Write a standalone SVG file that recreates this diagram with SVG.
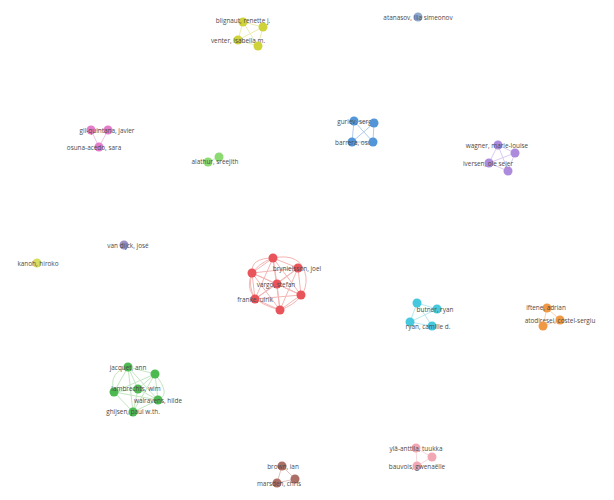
<svg xmlns="http://www.w3.org/2000/svg" width="614" height="500" viewBox="0 0 614 500">
<style>
text{font-family:"Open Sans","Liberation Sans",sans-serif;font-size:6.4px;fill:#4a4a4a;text-anchor:middle}
line,path{stroke-width:1;fill:none;stroke-linecap:round}
.ered line,.ered path{stroke:#f5b5b5}
.eyel line{stroke:#ecedb0}
.eblu line{stroke:#afcdee}
.epur line{stroke:#dccbf2}
.emag line{stroke:#f3c4e6}
.elg line{stroke:#d2eec6}
.ecy line{stroke:#b8e8f2}
.eor line{stroke:#f8d2ae}
.egr line,.egr path{stroke:#c4e6c2}
.ebr line{stroke:#e0c4bf}
.epk line{stroke:#f8d8dd}
circle{r:4.5px}
.red{fill:#e8545a}
.yel{fill:#cfd33a}
.blu{fill:#5296d8}
.pur{fill:#ac8adc}
.mag{fill:#e27ccb}
.lg{fill:#8cda72}
.cy{fill:#46c8de}
.or{fill:#f09844}
.gr{fill:#4cba50}
.br{fill:#ab6f66}
.pk{fill:#f2a8b4}
.gb{fill:#90a8cc}
.vd{fill:#9c92c2}
.ka{fill:#d8dc62}
</style>
<rect width="614" height="500" fill="#fff"/>
<g id="connectors">
<g class="eyel"><line x1="243" y1="22" x2="263" y2="27"/><line x1="243" y1="22" x2="238" y2="40"/><line x1="243" y1="22" x2="258" y2="46"/><line x1="263" y1="27" x2="238" y2="40"/><line x1="263" y1="27" x2="258" y2="46"/><line x1="238" y1="40" x2="258" y2="46"/></g>
<g class="emag"><line x1="91" y1="130" x2="108" y2="130"/><line x1="91" y1="130" x2="99" y2="147"/><line x1="108" y1="130" x2="99" y2="147"/></g>
<g class="elg"><line x1="219" y1="157" x2="208" y2="162"/></g>
<g class="eblu"><line x1="354" y1="121" x2="374" y2="123"/><line x1="354" y1="121" x2="373" y2="142"/><line x1="374" y1="123" x2="352" y2="142"/><line x1="374" y1="123" x2="373" y2="142"/><line x1="352" y1="142" x2="373" y2="142"/><line x1="354" y1="121" x2="352" y2="142"/></g>
<g class="epur"><line x1="498" y1="145" x2="515" y2="153"/><line x1="498" y1="145" x2="489" y2="163"/><line x1="515" y1="153" x2="489" y2="163"/><line x1="515" y1="153" x2="508" y2="171"/><line x1="489" y1="163" x2="508" y2="171"/><line x1="498" y1="145" x2="508" y2="171"/></g>
<g class="ered">
<line x1="273" y1="258" x2="252" y2="273"/><line x1="273" y1="258" x2="298" y2="268"/><line x1="273" y1="258" x2="277" y2="284"/><line x1="273" y1="258" x2="255" y2="299"/><line x1="273" y1="258" x2="301" y2="295"/><line x1="273" y1="258" x2="280" y2="310"/>
<line x1="252" y1="273" x2="298" y2="268"/><line x1="252" y1="273" x2="277" y2="284"/><line x1="252" y1="273" x2="255" y2="299"/><line x1="252" y1="273" x2="301" y2="295"/><line x1="252" y1="273" x2="280" y2="310"/>
<line x1="298" y1="268" x2="277" y2="284"/><line x1="298" y1="268" x2="255" y2="299"/><line x1="298" y1="268" x2="301" y2="295"/><line x1="298" y1="268" x2="280" y2="310"/>
<line x1="277" y1="284" x2="255" y2="299"/><line x1="277" y1="284" x2="301" y2="295"/><line x1="277" y1="284" x2="280" y2="310"/>
<line x1="255" y1="299" x2="301" y2="295"/><line x1="255" y1="299" x2="280" y2="310"/><line x1="301" y1="295" x2="280" y2="310"/>
<path d="M273 258 Q 250 258 252 273"/><path d="M273 258 Q 302 252 306 277 Q 308 300 280 310"/><path d="M252 273 Q 240 300 280 310"/><path d="M273 258 Q 240 270 255 299"/>
</g>
<g class="ecy"><line x1="417" y1="303" x2="437" y2="309"/><line x1="417" y1="303" x2="410" y2="322"/><line x1="417" y1="303" x2="432" y2="326"/><line x1="410" y1="322" x2="432" y2="326"/><line x1="437" y1="309" x2="410" y2="322"/></g>
<g class="eor"><line x1="547" y1="308" x2="560" y2="320"/><line x1="547" y1="308" x2="543" y2="326"/><line x1="560" y1="320" x2="543" y2="326"/></g>
<g class="egr">
<line x1="128" y1="367" x2="155" y2="374"/><line x1="128" y1="367" x2="114" y2="392"/><line x1="128" y1="367" x2="138" y2="389"/><line x1="128" y1="367" x2="158" y2="400"/><line x1="128" y1="367" x2="133" y2="412"/>
<line x1="155" y1="374" x2="114" y2="392"/><line x1="155" y1="374" x2="138" y2="389"/><line x1="155" y1="374" x2="158" y2="400"/><line x1="155" y1="374" x2="133" y2="412"/>
<line x1="114" y1="392" x2="138" y2="389"/><line x1="114" y1="392" x2="158" y2="400"/><line x1="114" y1="392" x2="133" y2="412"/>
<line x1="138" y1="389" x2="158" y2="400"/><line x1="138" y1="389" x2="133" y2="412"/><line x1="158" y1="400" x2="133" y2="412"/>
<path d="M114 392 Q 108 372 128 367"/><path d="M155 374 Q 172 395 158 400"/>
</g>
<g class="ebr"><line x1="282" y1="466" x2="295" y2="479"/><line x1="282" y1="466" x2="277" y2="483"/><line x1="295" y1="479" x2="277" y2="483"/></g>
<g class="epk"><line x1="416" y1="448" x2="432" y2="457"/><line x1="432" y1="457" x2="417" y2="466"/><line x1="416" y1="448" x2="417" y2="466"/></g>
</g>
<g id="n-blignaut"><circle class="yel" cx="243" cy="22"/><text x="243" y="22.5">blignaut, renette j.</text></g>
<g id="n-yel2"><circle class="yel" cx="263" cy="27"/></g>
<g id="n-venter"><circle class="yel" cx="238" cy="40"/><text x="238" y="42.5">venter, isabella m.</text></g>
<g id="n-yel4"><circle class="yel" cx="258" cy="46"/></g>
<g id="n-atanasov"><circle class="gb" cx="418" cy="17"/><text x="418" y="19.5">atanasov, ilia simeonov</text></g>
<g id="n-gil"><circle class="mag" cx="91" cy="130"/></g>
<g id="n-gilq"><circle class="mag" cx="108" cy="130"/><text x="107" y="132.5">gil-quintana, javier</text></g>
<g id="n-osuna"><circle class="mag" cx="99" cy="147"/><text x="94" y="149.5">osuna-acedo, sara</text></g>
<g id="n-lg2"><circle class="lg" cx="219" cy="157"/></g>
<g id="n-alathur"><circle class="lg" cx="208" cy="162"/><text x="215" y="163.5">alathur, sreejith</text></g>
<g id="n-guriev"><circle class="blu" cx="354" cy="121"/><text x="357" y="123.5">guriev, sergei</text></g>
<g id="n-blu2"><circle class="blu" cx="374" cy="123"/></g>
<g id="n-barrera"><circle class="blu" cx="352" cy="142"/><text x="356" y="144.5">barrera, oscar</text></g>
<g id="n-blu4"><circle class="blu" cx="373" cy="142"/></g>
<g id="n-wagner"><circle class="pur" cx="498" cy="145"/><text x="497" y="147.5">wagner, marie-louise</text></g>
<g id="n-pur2"><circle class="pur" cx="515" cy="153"/></g>
<g id="n-iversen"><circle class="pur" cx="489" cy="163"/><text x="488" y="165.5">iversen, ole sejer</text></g>
<g id="n-pur4"><circle class="pur" cx="508" cy="171"/></g>
<g id="n-vandijck"><circle class="vd" cx="124" cy="245"/><text x="128" y="247.5">van dijck, josé</text></g>
<g id="n-kanoh"><circle class="ka" cx="37" cy="263"/><text x="38" y="265.5">kanoh, hiroko</text></g>
<g id="n-red1"><circle class="red" cx="273" cy="258"/></g>
<g id="n-red2"><circle class="red" cx="252" cy="273"/></g>
<g id="n-red3"><circle class="red" cx="301" cy="295"/></g>
<g id="n-red4"><circle class="red" cx="280" cy="310"/></g>
<g id="n-brynielsson"><circle class="red" cx="298" cy="268"/><text x="297" y="270.5">brynielsson, joel</text></g>
<g id="n-vargo"><circle class="red" cx="277" cy="284"/><text x="276" y="286.5">vargo, stefan</text></g>
<g id="n-franke"><circle class="red" cx="255" cy="299"/><text x="255" y="301.5">franke, ulrik</text></g>
<g id="n-cy1"><circle class="cy" cx="417" cy="303"/></g>
<g id="n-butner"><circle class="cy" cx="437" cy="309"/><text x="435" y="311.5">butner, ryan</text></g>
<g id="n-cy3"><circle class="cy" cx="410" cy="322"/></g>
<g id="n-ryan"><circle class="cy" cx="432" cy="326"/><text x="428" y="329">ryan, camille d.</text></g>
<g id="n-iftene"><circle class="or" cx="547" cy="308"/><text x="546" y="309.5">iftene, adrian</text></g>
<g id="n-atodiresei"><circle class="or" cx="560" cy="320"/><text x="560" y="322.5">atodiresei, costel-sergiu</text></g>
<g id="n-or3"><circle class="or" cx="543" cy="326"/></g>
<g id="n-jacquet"><circle class="gr" cx="128" cy="367"/><text x="128" y="370">jacquet, ann</text></g>
<g id="n-gr2"><circle class="gr" cx="155" cy="374"/></g>
<g id="n-gr3"><circle class="gr" cx="114" cy="392"/></g>
<g id="n-lambrechts"><circle class="gr" cx="138" cy="389"/><text x="136" y="390.5">lambrechts, wim</text></g>
<g id="n-walravens"><circle class="gr" cx="158" cy="400"/><text x="158" y="402.5">walravens, hilde</text></g>
<g id="n-ghijsen"><circle class="gr" cx="133" cy="412"/><text x="133" y="413.5">ghijsen, paul w.th.</text></g>
<g id="n-brown"><circle class="br" cx="282" cy="466"/><text x="283" y="468.5">brown, ian</text></g>
<g id="n-br2"><circle class="br" cx="295" cy="479"/></g>
<g id="n-marsden"><circle class="br" cx="277" cy="483"/><text x="279" y="485.5">marsden, chris</text></g>
<g id="n-yla"><circle class="pk" cx="416" cy="448"/><text x="416" y="451">ylä-anttila, tuukka</text></g>
<g id="n-pk2"><circle class="pk" cx="432" cy="457"/></g>
<g id="n-bauvois"><circle class="pk" cx="417" cy="466"/><text x="417" y="468.5">bauvois, gwenaëlle</text></g>
</svg>
